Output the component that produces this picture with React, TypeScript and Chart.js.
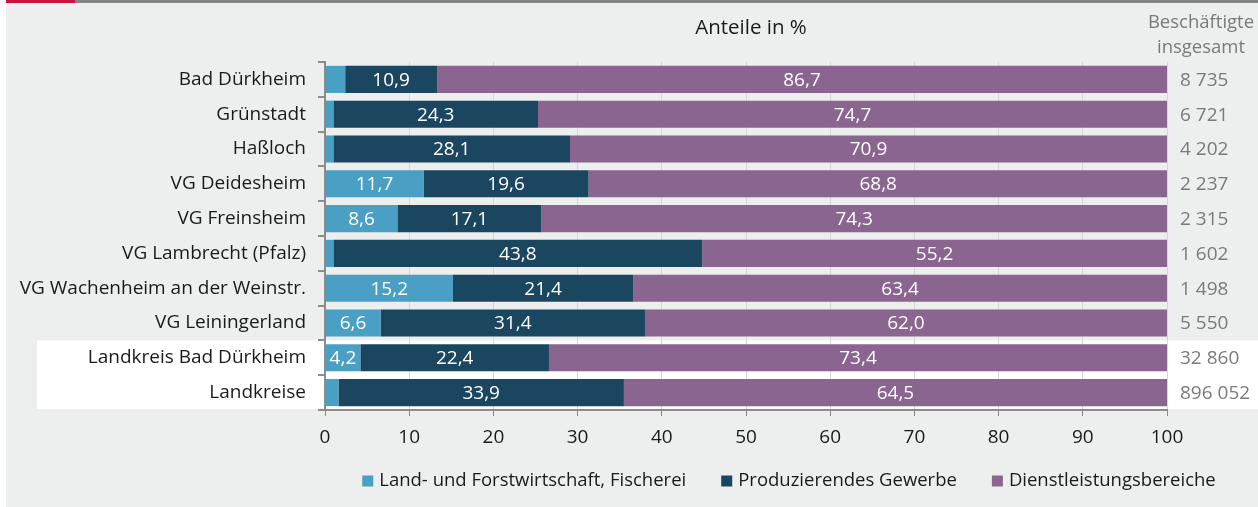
import React, { useEffect, useRef } from "react";
import { Chart, registerables } from "chart.js";

Chart.register(...registerables);

const categories = [
  "Bad Dürkheim",
  "Grünstadt",
  "Haßloch",
  "VG Deidesheim",
  "VG Freinsheim",
  "VG Lambrecht (Pfalz)",
  "VG Wachenheim an der Weinstr.",
  "VG Leiningerland",
  "Landkreis Bad Dürkheim",
  "Landkreise",
];
const seriesNames = [
  "Land- und Forstwirtschaft, Fischerei",
  "Produzierendes Gewerbe",
  "Dienstleistungsbereiche",
];
const agriculture = [2.4, 1.0, 1.0, 11.7, 8.6, 1.0, 15.2, 6.6, 4.2, 1.6];
const industry = [10.9, 24.3, 28.1, 19.6, 17.1, 43.8, 21.4, 31.4, 22.4, 33.9];
const services = [86.7, 74.7, 70.9, 68.8, 74.3, 55.2, 63.4, 62.0, 73.4, 64.5];
const totals = [8735, 6721, 4202, 2237, 2315, 1602, 1498, 5550, 32860, 896052];
const xTicks = [0, 10, 20, 30, 40, 50, 60, 70, 80, 90, 100];
const colors = ["#4a9fc4", "#1b4660", "#8a6590"];
const highlightRows = [8, 9];

const FONT = "'Open Sans', 'Noto Sans', sans-serif";
const FS = 18.5;
const BG = "#edeeee";

const fmtNum = (n: number) => String(n).replace(/\B(?=(\d{3})+(?!\d))/g, " ");
const fmtPct = (v: number) => v.toFixed(1).replace(".", ",");

const decorPlugin = {
  id: "decor",
  beforeDraw(chart: any) {
    const { ctx, width, height, scales } = chart;
    const y = scales.y;
    ctx.save();
    ctx.fillStyle = "#ffffff";
    ctx.fillRect(0, 0, width, height);
    ctx.fillStyle = BG;
    ctx.fillRect(6, 0, width - 6, height);
    ctx.fillStyle = "#848484";
    ctx.fillRect(75, 0, width - 75, 3);
    ctx.fillStyle = "#c8143c";
    ctx.fillRect(6, 0, 69, 3);
    const band = y.getPixelForValue(1) - y.getPixelForValue(0);
    const top = y.getPixelForValue(highlightRows[0]) - band / 2;
    const bottom = y.getPixelForValue(highlightRows[highlightRows.length - 1]) + band / 2;
    ctx.fillStyle = "#ffffff";
    ctx.fillRect(37, top, width - 37, bottom - top - 1);
    ctx.restore();
  },
  afterDraw(chart: any) {
    const { ctx, scales } = chart;
    const y = scales.y;
    ctx.save();
    ctx.font = `20.5px ${FONT}`;
    ctx.fillStyle = "#1a1a1a";
    ctx.textAlign = "center";
    ctx.textBaseline = "middle";
    ctx.fillText("Anteile in %", 751, 28);
    ctx.fillStyle = "#7a7a7a";
    ctx.font = `${FS}px ${FONT}`;
    ctx.fillText("Beschäftigte", 1201, 23);
    ctx.fillText("insgesamt", 1201, 48);
    ctx.textAlign = "left";
    ctx.font = `19px ${FONT}`;
    totals.forEach((t, i) => {
      ctx.fillText(fmtNum(t), 1180, y.getPixelForValue(i) + 1);
    });
    ctx.font = `${FS}px ${FONT}`;
    const gap = 35;
    const box = 11;
    const items = chart.data.datasets.map((d: any) => ({
      label: d.label,
      color: d.backgroundColor,
      w: box + 6 + ctx.measureText(d.label).width,
    }));
    const total = items.reduce((s: number, it: any) => s + it.w, 0) + gap * (items.length - 1);
    let x = 789 - total / 2;
    const ly = 481;
    items.forEach((it: any) => {
      ctx.fillStyle = it.color;
      ctx.fillRect(x, ly - box / 2, box, box);
      ctx.fillStyle = "#1a1a1a";
      ctx.textAlign = "left";
      ctx.fillText(it.label, x + box + 6, ly);
      x += it.w + gap;
    });
    ctx.restore();
  },
};

const labelPlugin = {
  id: "segLabels",
  afterDatasetsDraw(chart: any) {
    const { ctx } = chart;
    ctx.save();
    ctx.font = `19px ${FONT}`;
    ctx.fillStyle = "#ffffff";
    ctx.textAlign = "center";
    ctx.textBaseline = "middle";
    chart.data.datasets.forEach((ds: any, di: number) => {
      const meta = chart.getDatasetMeta(di);
      meta.data.forEach((bar: any, i: number) => {
        const v = ds.data[i];
        if (v < 3) return;
        const cx = (bar.x + bar.base) / 2;
        ctx.fillText(fmtPct(v), cx, bar.y + 1);
      });
    });
    ctx.restore();
  },
};

export default function App() {
  const ref = useRef<HTMLCanvasElement | null>(null);
  useEffect(() => {
    document.body.style.margin = "0";
    const chart = new Chart(ref.current as HTMLCanvasElement, {
      type: "bar",
      data: {
        labels: categories,
        datasets: [agriculture, industry, services].map((d, i) => ({
          label: seriesNames[i],
          data: d,
          backgroundColor: colors[i],
          borderWidth: 0,
          barPercentage: 0.78,
          categoryPercentage: 1,
        })),
      },
      options: {
        indexAxis: "y",
        animation: false,
        responsive: false,
        maintainAspectRatio: false,
        layout: { padding: { left: 0, right: 91, top: 62, bottom: 57 } },
        plugins: {
          legend: { display: false },
          tooltip: { enabled: false },
          title: { display: false },
        },
        scales: {
          x: {
            stacked: true,
            min: 0,
            max: 100,
            afterFit: (s: any) => { s.height = 40; },
            afterBuildTicks: (s: any) => { s.ticks = xTicks.map((v) => ({ value: v })); },
            border: { color: "#8c8c8c", width: 2 },
            grid: {
              color: "#d6d6d6",
              lineWidth: 1,
              tickLength: 6,
              tickColor: "#8c8c8c",
            },
            ticks: {
              color: "#1a1a1a",
              font: { family: FONT, size: 19 },
              padding: 10,
              maxRotation: 0,
            },
          },
          y: {
            stacked: true,
            afterFit: (s: any) => { s.width = 325; },
            border: { color: "#8c8c8c", width: 2 },
            grid: {
              drawOnChartArea: false,
              offset: true,
              tickLength: 7,
              color: "#8c8c8c",
              lineWidth: 2,
            },
            ticks: {
              color: "#1a1a1a",
              font: { family: FONT, size: 19 },
              padding: 12,
            },
          },
        },
      },
      plugins: [decorPlugin, labelPlugin],
    } as any);
    return () => chart.destroy();
  }, []);
  return (
    <div style={{ position: "absolute", left: 0, top: 0, width: 1258, height: 507 }}>
      <canvas ref={ref} width={1258} height={507} style={{ width: 1258, height: 507 }} />
    </div>
  );
}
